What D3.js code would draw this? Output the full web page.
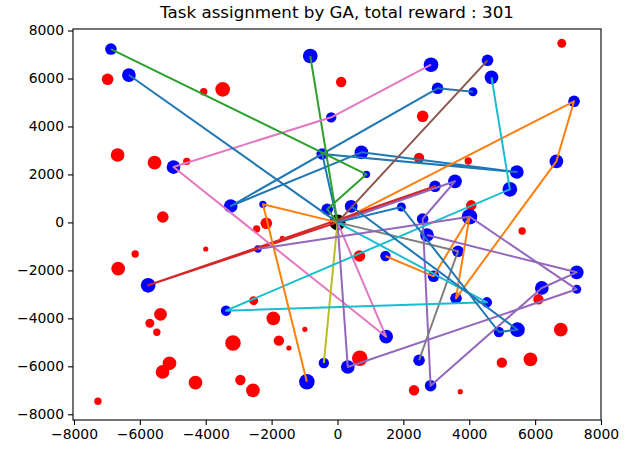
<!DOCTYPE html>
<html>
<head>
<meta charset="utf-8">
<script src="https://cdn.jsdelivr.net/npm/d3@7"></script>
<style>
  body { margin: 0; background: #fff; }
  text { font-family: "DejaVu Sans", sans-serif; fill: #000; }
</style>
</head>
<body>
<svg id="chart" width="634" height="451"></svg>
<script>
'use strict';

// tasks assigned (blue)
var blueX = [-6879, -6333, -827, -191, -464, -312, -4979, -3242, -2264, 4555,
             2839, 4676, 3039, 4112, 7182, 727, 5445, 6645, 879, 3567,
             2961, 5233, 4009, 2585, 1939, 415, 2718, 1455, 3658, 2918,
             3597, 4536, 7264, 6203, 7264, 5464, 4900, 1476, 312, 2476,
             2827, -415, -930, -2415, -5748, -3385];
var blueY = [7228, 6144, 6936, 4381, 2851, 546, 2309, 684, 754, 6757,
             6574, 6048, 5590, 5448, 5048, 2922, 2101, 2547, 2005, 1713,
             1505, 1380, 238, 142, 642, 671, -525, -1401, -1205, -2247,
             -3164, -3331, -2080, -2734, -2789, -4473, -4569, -4765, -6028, -5748,
             -6807, -5861, -6640, -1109, -2622, -3681];
var blueReward = [5, 7, 8, 4, 5, 5, 7, 7, 2, 5,
                  8, 7, 5, 3, 5, 7, 7, 7, 2, 7,
                  5, 8, 9, 5, 3, 6, 7, 4, 5, 5,
                  5, 4, 7, 7, 3, 8, 4, 7, 7, 5,
                  5, 4, 9, 2, 8, 4];

// tasks not assigned (red)
var redX = [-6979, -4061, -3485, 112, -6676, -5555, -4576, -5303, -2161, -2455,
            6809, 2585, 2476, 3970, 4061, 5606, -1676, -6142, -4000, -6658,
            -2545, -5373, -5697, -5485, -1948, -991, -3173, -1779, -1476, -5100,
            -5312, -4312, -2948, -2567, -7273, 667, 6100, 6779, 676, 4991,
            5858, 2324, 3727];
var redY = [5965, 5448, 5548, 5852, 2810, 2489, 2547, 225, -38, -275,
            7466, 4423, 2684, 2559, 713, -358, -663, -1317, -1109, -1930,
            -3264, -3831, -4206, -4581, -3998, -4456, -5027, -4931, -5236, -5873,
            -6236, -6682, -6569, -6999, -7457, -1401, -3206, -4473, -5665, -5848,
            -5707, -6999, -7057];
var redReward = [5, 2, 8, 4, 7, 7, 2, 5, 5, 2,
                 3, 5, 4, 2, 4, 2, 1, 2, 1, 7,
                 3, 6, 3, 2, 7, 1, 9, 4, 1, 7,
                 7, 7, 4, 7, 2, 5, 4, 7, 9, 4,
                 7, 4, 1];

var depot = [0, 0];

// routes per agent: indices into the blue tasks, -1 = depot
var routeAgent = [0, 1, 2, 3, 4, 5, 6, 7, 8, 9, 10, 11, 12, 14, 20];
var routes = [
  [-1, 4, 16, 15, 7, 12, 13],
  [-1, 14, 17, 30, 22, 29, 27],
  [-1, 2],
  [-1, 20, 44, -1],
  [-1, 19, 23, 40, 33, 32, 26],
  [-1, 9],
  [-1, 37, 6, 3, 10],
  [-1, 28, 39],
  [-1, 41],
  [-1, 31, 45, 21, 11],
  [-1, 1],
  [-1, 8, 42],
  [-1, 5, 18, 0],
  [-1, 38, 34, 22, 43],
  [-1, 24, 36, 35, 25]
];

var xTicks = [-8000, -6000, -4000, -2000, 0, 2000, 4000, 6000, 8000];
var yTicks = [-8000, -6000, -4000, -2000, 0, 2000, 4000, 6000, 8000];
var title = "Task assignment by GA, total reward : 301";

(function draw() {
  var svg = d3.select("#chart");
  var mLeft = 73, mRight = 601, mTop = 29, mBottom = 420;

  var x = d3.scaleLinear().domain([-8030, 8000]).range([mLeft, mRight]);
  var y = d3.scaleLinear().domain([-8238, 8063]).range([mBottom, mTop]);
  var r = d3.scaleSqrt().domain([0, 10]).range([0, 8.2]);
  var color = d3.scaleOrdinal().domain(d3.range(10)).range(d3.schemeCategory10);

  function pt(i) {
    return i < 0 ? depot : [blueX[i], blueY[i]];
  }

  var plot = svg.append("g");

  plot.selectAll("circle.red")
    .data(redX)
    .enter().append("circle")
    .attr("class", "red")
    .attr("cx", function(d) { return x(d); })
    .attr("cy", function(d, i) { return y(redY[i]); })
    .attr("r", function(d, i) { return r(redReward[i]); })
    .attr("fill", "red");

  plot.selectAll("circle.blue")
    .data(blueX)
    .enter().append("circle")
    .attr("class", "blue")
    .attr("cx", function(d) { return x(d); })
    .attr("cy", function(d, i) { return y(blueY[i]); })
    .attr("r", function(d, i) { return r(blueReward[i]); })
    .attr("fill", "blue");

  plot.append("circle")
    .attr("cx", x(depot[0]))
    .attr("cy", y(depot[1]))
    .attr("r", 8)
    .attr("fill", "black");

  var line = d3.line()
    .x(function(i) { return x(pt(i)[0]); })
    .y(function(i) { return y(pt(i)[1]); });

  plot.selectAll("path.route")
    .data(routes)
    .enter().append("path")
    .attr("class", "route")
    .attr("d", line)
    .attr("fill", "none")
    .attr("stroke", function(d, i) { return color(routeAgent[i] % 10); })
    .attr("stroke-width", 2)
    .attr("stroke-linejoin", "round");

  // axes
  var fmt = d3.format("d");
  function styleAxis(g) {
    g.select(".domain").remove();
    g.selectAll("line").attr("stroke", "#000").attr("stroke-width", 1.1);
    g.selectAll("text").attr("font-size", "13.9px").attr("font-family", "DejaVu Sans").attr("fill", "#000");
  }

  svg.append("g")
    .attr("transform", "translate(0," + mBottom + ")")
    .call(d3.axisBottom(x).tickValues(xTicks).tickFormat(fmt).tickSize(5).tickPadding(4))
    .call(styleAxis);

  svg.append("g")
    .attr("transform", "translate(" + mLeft + ",0)")
    .call(d3.axisLeft(y).tickValues(yTicks).tickFormat(fmt).tickSize(5).tickPadding(4))
    .call(styleAxis);

  svg.append("rect")
    .attr("x", mLeft)
    .attr("y", mTop)
    .attr("width", mRight - mLeft)
    .attr("height", mBottom - mTop)
    .attr("fill", "none")
    .attr("stroke", "#000")
    .attr("stroke-width", 1.1);

  svg.append("text")
    .attr("x", (mLeft + mRight) / 2)
    .attr("y", 18)
    .attr("text-anchor", "middle")
    .attr("font-size", "16.7px")
    .text(title);
})();
</script>
</body>
</html>
